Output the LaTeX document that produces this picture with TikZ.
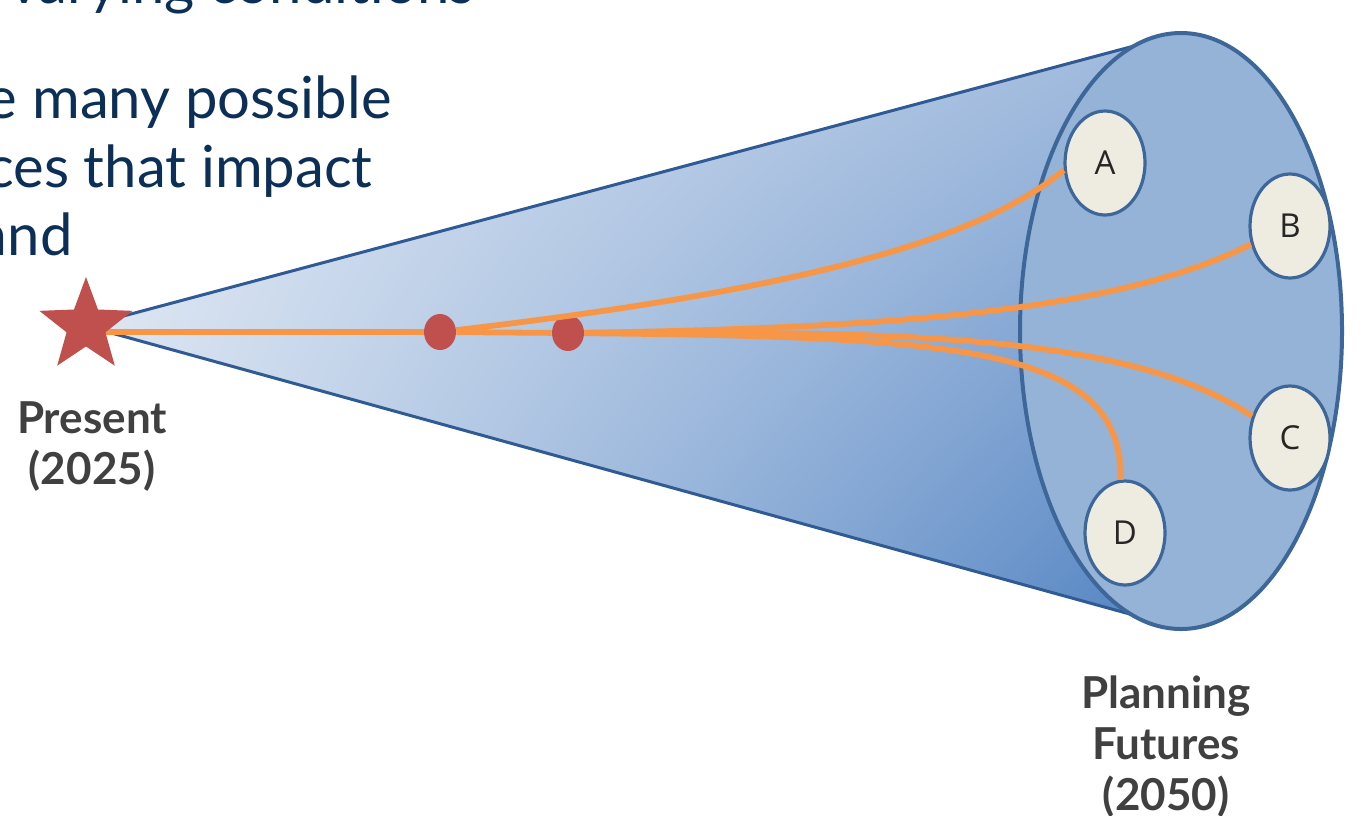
\documentclass[tikz,border=0pt]{standalone}
\usepackage{fontspec}
\setmainfont{Lato}
\setsansfont{Lato}
\newfontfamily\ovalfont{Open Sans}
\usetikzlibrary{shapes.geometric,shadings}
\definecolor{slideblue}{HTML}{0C2F57}
\definecolor{labelgrey}{HTML}{404040}
\definecolor{conerim}{HTML}{2F5A94}
\definecolor{conenw}{HTML}{E4EBF5}
\definecolor{conesw}{HTML}{D8E3F1}
\definecolor{conene}{HTML}{9DB8DC}
\definecolor{conese}{HTML}{5283C2}
\definecolor{facefill}{HTML}{95B3D7}
\definecolor{faceline}{HTML}{3E6799}
\definecolor{pathorange}{HTML}{F79646}
\definecolor{eventred}{HTML}{C0504D}
\definecolor{ovalfill}{HTML}{EEECE1}
\tikzset{every node/.style={font=\sffamily},line cap=round,line join=round,
  slide/.style={anchor=base east,inner sep=0pt,text=slideblue,font=\sffamily\fontsize{29}{35}\selectfont},
  future/.style={ellipse,draw=faceline,line width=1.6pt,fill=ovalfill,minimum width=40pt,minimum height=52pt,
    inner sep=0pt,text=black!85,font=\ovalfont\fontsize{16.5}{19}\selectfont},
  event/.style={ellipse,fill=eventred,minimum width=16pt,minimum height=18pt,inner sep=0pt},
  branch/.style={draw=pathorange,line width=2.9pt},
  caption/.style={anchor=north,align=center,inner sep=0pt,text=labelgrey,font=\sffamily\bfseries\fontsize{22}{25.5}\selectfont}}

\begin{document}
\begin{tikzpicture}[x=0.5pt,y=0.5pt]
  \path[use as bounding box] (0,0) rectangle (1368,-815);
  \begin{scope}
    \clip (0,0) rectangle (1368,-815);
    \node[slide] at (475,-3) {varying conditions};
    \node[slide] at (392,-118) {e many possible};
    \node[slide] at (373,-187) {ces that impact};
    \node[slide] at (73,-255) {and};
  \end{scope}

  % cone
  \coordinate (apex) at (86,-326);
  \coordinate (face) at (1181,-331);
  \coordinate (rimtop) at ([shift={(107:161 and 298)}]face);
  \coordinate (rimbot) at ([shift={(-108:161 and 298)}]face);
  \shade[upper left=conenw,lower left=conesw,upper right=conene,lower right=conese]
    (apex) -- (rimtop) -- (face) -- (rimbot) -- cycle;
  \draw[conerim,line width=1.5pt] (rimtop) -- (apex) -- (rimbot);
  \draw[faceline,line width=2pt,fill=facefill] (face) ellipse [x radius=161,y radius=298];

  \node[event] (fork) at (440,-332) {};
  \node[event] (split) at (568,-333) {};
  \node[future] (A) at (1105,-163) {A};
  \node[future] (B) at (1290,-226) {B};
  \node[future] (C) at (1290,-438) {C};
  \node[future] (D) at (1125,-533) {D};

  \coordinate (start) at (86,-332);
  \draw[branch] (start) -- (fork);
  \draw[branch] (fork) -- (split);
  \draw[branch] (fork) .. controls (800,-290) and (980,-240) .. (A.190);
  \draw[branch] (split) .. controls (900,-328) and (1120,-310) .. (B.205);
  \draw[branch] (split) .. controls (900,-331) and (1130,-334) .. (C.150);
  \draw[branch] (split) .. controls (950,-337) and (1125,-345) .. (D.95);

  \node[star,star points=5,star point ratio=2.4,fill=eventred,minimum size=49pt,inner sep=0pt] (present) at (apex) {};

  \node[caption] (presentlabel) at (92,-401) {Present\\(2025)};
  \node[caption] (futurelabel) at (1166,-675) {Planning\\Futures\\(2050)};
\end{tikzpicture}
\end{document}
